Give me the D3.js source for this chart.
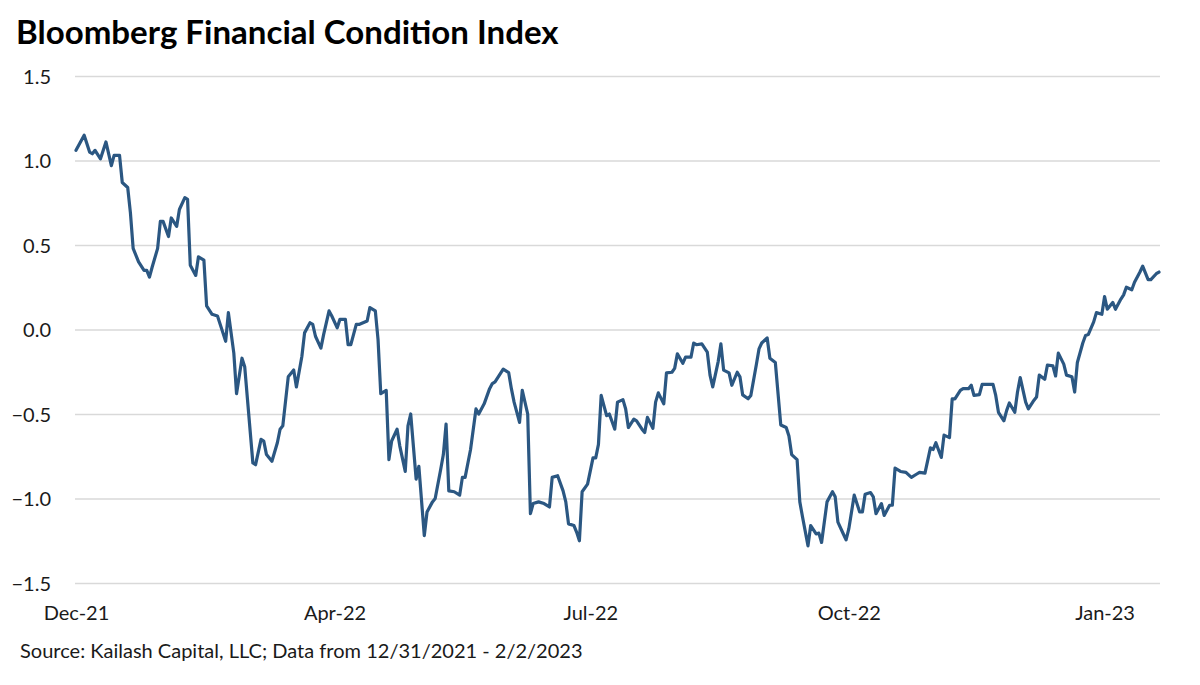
<!DOCTYPE html>
<html>
<head>
<meta charset="utf-8">
<script src="https://cdn.jsdelivr.net/npm/d3@7"></script>
<style>
  html, body { margin: 0; padding: 0; background: #ffffff; }
  svg { display: block; }
</style>
</head>
<body>
<svg id="chart" width="1200" height="685"></svg>
<script>
// ---- Data ----
const chartTitle = "Bloomberg Financial Condition Index";
const sourceNote = "Source: Kailash Capital, LLC; Data from 12/31/2021 - 2/2/2023";

// days elapsed since 12/31/2021
const dayOffsets = [
  0,3,5,6,7,9,11,13,14,16,17,19,20,21,23,25,26,27,28,30,31,32,34,35,37,38,40,41,42,44,45,47,48,50,52,54,55,56,58,59,
  61,62,63,65,66,68,69,70,72,74,75,76,78,80,81,83,84,86,87,88,90,91,93,94,96,97,99,100,101,103,104,107,108,110,111,112,114,115,116,118,
  119,121,122,123,125,126,128,129,131,132,134,135,136,137,139,141,142,143,145,147,148,150,152,153,154,156,157,159,160,161,163,164,166,167,168,170,172,174,175,177,
  179,180,181,183,184,185,186,188,190,191,192,193,195,196,198,199,201,202,203,205,206,208,209,210,212,213,214,216,217,219,220,221,223,224,226,227,228,230,232,233,
  234,236,237,238,240,241,243,244,245,247,248,250,251,252,254,255,257,258,259,261,262,263,265,266,267,269,270,272,273,274,276,278,279,280,282,283,284,286,288,289,
  290,292,293,294,296,297,299,300,301,303,305,307,309,310,312,314,315,316,318,319,321,322,323,325,326,328,329,330,332,333,335,337,338,339,341,342,343,345,346,347,
  349,350,352,353,354,356,357,359,360,361,363,364,366,367,368,370,371,372,374,375,377,378,379,381,382,384,385,386,388,389,391,392,394,395,397,398
];
const indexValues = [
  1.06,1.15,1.05,1.04,1.06,1.01,1.11,0.97,1.03,1.03,0.87,0.84,0.69,0.48,0.40,0.35,0.35,0.31,0.37,0.48,0.64,0.64,0.55,0.66,0.61,0.71,0.78,0.77,0.38,0.32,0.43,0.41,0.14,0.09,0.08,-0.02,-0.07,0.10,-0.14,-0.38,
  -0.17,-0.22,-0.41,-0.79,-0.80,-0.65,-0.66,-0.74,-0.78,-0.67,-0.59,-0.57,-0.28,-0.24,-0.34,-0.16,-0.02,0.04,0.03,-0.04,-0.11,-0.03,0.11,0.08,0.01,0.06,0.06,-0.09,-0.09,0.03,0.03,0.05,0.13,0.11,-0.06,-0.38,-0.36,-0.77,-0.66,-0.59,
  -0.69,-0.84,-0.57,-0.50,-0.885,-0.81,-1.22,-1.08,-1.02,-1.00,-0.83,-0.74,-0.56,-0.955,-0.96,-0.98,-0.875,-0.875,-0.71,-0.47,-0.50,-0.44,-0.35,-0.32,-0.31,-0.26,-0.235,-0.255,-0.35,-0.43,-0.55,-0.36,-0.50,-1.09,-1.03,-1.02,-1.03,-1.05,-0.875,-0.865,
  -0.955,-1.02,-1.15,-1.16,-1.20,-1.25,-0.96,-0.915,-0.76,-0.76,-0.68,-0.39,-0.51,-0.50,-0.59,-0.43,-0.415,-0.47,-0.58,-0.53,-0.54,-0.59,-0.61,-0.52,-0.585,-0.43,-0.375,-0.44,-0.257,-0.253,-0.23,-0.144,-0.20,-0.164,-0.164,-0.08,-0.09,-0.085,-0.134,-0.27,
  -0.34,-0.19,-0.085,-0.24,-0.257,-0.33,-0.253,-0.28,-0.387,-0.41,-0.39,-0.21,-0.115,-0.08,-0.05,-0.17,-0.195,-0.38,-0.565,-0.58,-0.63,-0.74,-0.77,-1.02,-1.11,-1.28,-1.16,-1.21,-1.205,-1.26,-1.02,-0.96,-0.99,-1.14,-1.21,-1.245,-1.18,-0.98,-1.08,-1.08,
  -0.975,-0.965,-0.99,-1.09,-1.03,-1.10,-1.04,-1.04,-0.82,-0.84,-0.845,-0.875,-0.855,-0.845,-0.85,-0.70,-0.71,-0.67,-0.757,-0.625,-0.64,-0.41,-0.41,-0.36,-0.35,-0.35,-0.33,-0.39,-0.385,-0.325,-0.325,-0.325,-0.39,-0.49,-0.54,-0.48,-0.435,-0.49,-0.37,-0.285,
  -0.43,-0.47,-0.42,-0.40,-0.27,-0.295,-0.21,-0.215,-0.275,-0.14,-0.205,-0.27,-0.28,-0.37,-0.195,-0.08,-0.035,-0.03,0.045,0.10,0.09,0.195,0.12,0.16,0.12,0.18,0.205,0.25,0.235,0.28,0.34,0.375,0.295,0.295,0.33,0.34
];
const yTicks = [1.5, 1.0, 0.5, 0.0, -0.5, -1.0, -1.5];
const xTickDays = [0, 95, 189, 284, 378];
const xTickLabels = ["Dec-21", "Apr-22", "Jul-22", "Oct-22", "Jan-23"];

// ---- Drawing ----
const svg = d3.select("#chart");
const FONT = "Lato, 'Open Sans', 'Noto Sans', sans-serif";
const plot = { left: 76, right: 1159, top: 76, bottom: 583 };

const x = d3.scaleLinear().domain([0, 398]).range([plot.left, plot.right]);
const y = d3.scaleLinear().domain([-1.5, 1.5]).range([plot.bottom, plot.top]);

const series = dayOffsets.map((d, i) => ({ d, v: indexValues[i] }));

// gridlines
const yAxis = d3.axisLeft(y).tickValues(yTicks).tickSize(-(1160 - 75)).tickFormat(d3.format(".1f"));
const gy = svg.append("g").attr("transform", "translate(75,0)").call(yAxis);
gy.select(".domain").remove();
gy.selectAll(".tick line").attr("stroke", "#d9d9d9").attr("stroke-width", 1.5);
gy.selectAll(".tick text")
  .attr("x", -24).attr("dy", "0.36em")
  .attr("text-anchor", "end")
  .style("font-family", FONT).style("font-size", "20px").attr("fill", "#1a1a1a");

// x axis labels
const xAxis = d3.axisBottom(x).tickValues(xTickDays).tickSize(0)
  .tickFormat((d, i) => xTickLabels[i]);
const gx = svg.append("g").attr("transform", `translate(0,${plot.bottom})`).call(xAxis);
gx.select(".domain").remove();
gx.selectAll(".tick text")
  .attr("y", 30).attr("dy", "0.36em")
  .style("font-family", FONT).style("font-size", "20px").attr("fill", "#1a1a1a");

// line
const line = d3.line().x(p => x(p.d)).y(p => y(p.v)).curve(d3.curveLinear);
svg.append("path").datum(series)
  .attr("d", line)
  .attr("fill", "none")
  .attr("stroke", "#2b5782")
  .attr("stroke-width", 3.2)
  .attr("stroke-linejoin", "round")
  .attr("stroke-linecap", "round");

// helper to fit a text to a measured width
function fitWidth(sel, target) {
  const w = sel.node().getComputedTextLength();
  const fs = parseFloat(sel.style("font-size"));
  if (w > 0) sel.style("font-size", (fs * target / w) + "px");
}

// title
const t = svg.append("text")
  .attr("x", 16).attr("y", 44)
  .style("font-family", FONT).style("font-weight", "700").style("font-size", "30px")
  .attr("fill", "#000").text(chartTitle);
fitWidth(t, 543);

// source
const s = svg.append("text")
  .attr("x", 20).attr("y", 658)
  .style("font-family", FONT).style("font-size", "18px")
  .attr("fill", "#1a1a1a").text(sourceNote);
fitWidth(s, 563);
</script>
</body>
</html>
